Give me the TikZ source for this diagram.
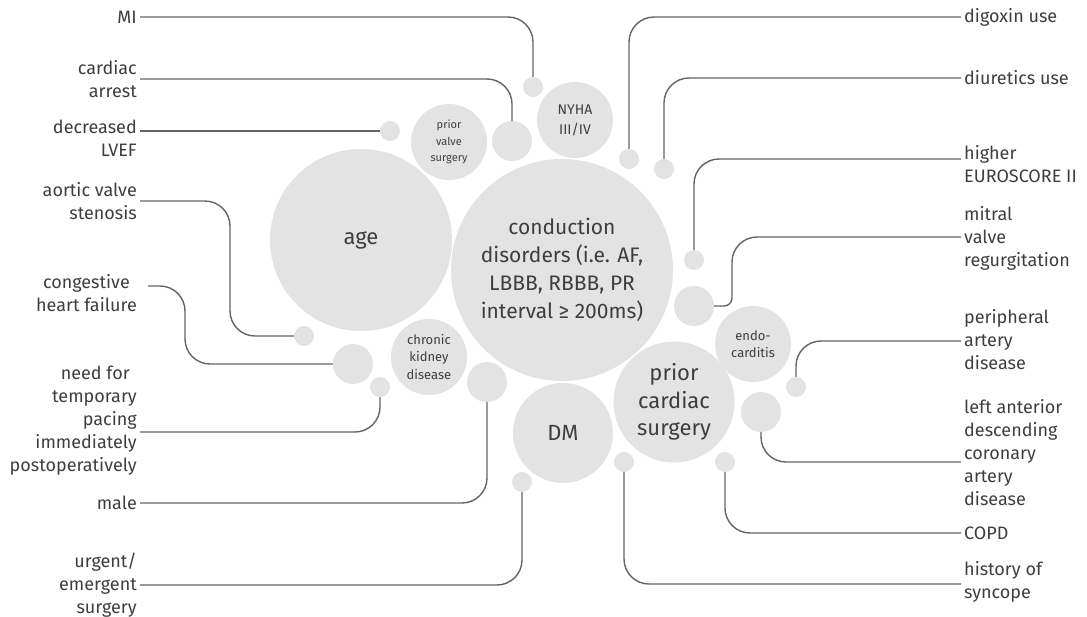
\documentclass[tikz,border=0pt]{standalone}
\usepackage{fontspec}
\setmainfont{Fira Sans}
\usetikzlibrary{positioning,calc}
\definecolor{bubblegray}{RGB}{227,227,227}
\definecolor{wiregray}{RGB}{100,100,100}
\definecolor{inkgray}{RGB}{62,62,62}

\begin{document}
\begin{tikzpicture}[x=1pt, y=-1pt,
    bubble/.style={circle, fill=bubblegray, inner sep=0pt, text=inkgray, align=center},
    pip/.style={bubble, minimum size=20pt},
    bigpip/.style={bubble, minimum size=40pt},
    factor/.style={text=inkgray, font=\fontsize{18}{23}\selectfont, inner sep=3pt},
    lfactor/.style={factor, anchor=east, align=right},
    rfactor/.style={factor, anchor=west, align=left},
    link/.style={draw=wiregray, line width=1.4pt, rounded corners=25pt}]
\useasboundingbox (0,0) rectangle (1087,616);

    \node [bubble, minimum size=222pt, font=\fontsize{21}{28}\selectfont] (cond) at (562,270)
        {conduction\\disorders (i.e. AF,\\LBBB, RBBB, PR\\interval ≥ 200ms)};
    \node [bubble, minimum size=182pt, font=\fontsize{22}{28}\selectfont] (age) at (361,240) {age};
    \node [bubble, minimum size=76pt, font=\fontsize{11}{16.5}\selectfont] (valve) at (449,142) {prior\\valve\\surgery};
    \node [bubble, minimum size=76pt, font=\fontsize{14}{20}\selectfont] (nyha) at (575,120) {NYHA\\III/IV};
    \node [bubble, minimum size=76pt, font=\fontsize{13}{17.5}\selectfont] (ckd) at (429,357) {chronic\\kidney\\disease};
    \node [bubble, minimum size=76pt, font=\fontsize{13}{17}\selectfont] (endo) at (753,344) {endo-\\carditis};
    \node [bubble, minimum size=121pt, font=\fontsize{22}{27.5}\selectfont] (surg) at (674,402) {prior\\cardiac\\surgery};
    \node [bubble, minimum size=100pt, font=\fontsize{22}{28}\selectfont] (dm) at (563,433) {DM};

    \node [pip] (dMI) at (533,87) {};
    \node [bigpip] (dArrest) at (512,141) {};
    \node [pip] (dLVEF) at (390,131) {};
    \node [pip] (dAVS) at (304,336) {};
    \node [bigpip] (dCHF) at (353,364) {};
    \node [pip] (dPace) at (380,387) {};
    \node [bigpip] (dMale) at (487,382) {};
    \node [pip] (dUrg) at (522,482) {};
    \node [pip] (dDig) at (629,159) {};
    \node [pip] (dDiur) at (664,169) {};
    \node [pip] (dEuro) at (694,260) {};
    \node [bigpip] (dMitral) at (694,306) {};
    \node [pip] (dPAD) at (796,387) {};
    \node [bigpip] (dLAD) at (761,412) {};
    \node [pip] (dCOPD) at (725,462) {};
    \node [pip] (dSync) at (624,462) {};

    \node [lfactor] (lMI) at (140,17) {MI};
    \node [lfactor] (lArrest) at (140,79) {cardiac\\arrest};
    \node [lfactor] (lLVEF) at (140,138.5) {decreased\\LVEF};
    \node [lfactor] (lAVS) at (140,201) {aortic valve\\stenosis};
    \node [lfactor] (lCHF) at (140,293.5) {congestive\hspace*{7pt}\\heart failure};
    \node [lfactor] (lPace) at (140,420.5) {need for\hspace*{7pt}\\temporary\hspace*{7pt}\\pacing\hspace*{7pt}\\immediately\hspace*{7pt}\\postoperatively};
    \node [lfactor] (lMale) at (140,503) {male};
    \node [lfactor] (lUrg) at (140,585) {urgent/\\emergent\\surgery};

    \node [rfactor] (rDig) at (961,17) {digoxin use};
    \node [rfactor] (rDiur) at (961,78) {diuretics use};
    \node [rfactor] (rEuro) at (961,164) {higher\\EUROSCORE II};
    \node [rfactor] (rMitral) at (961,238) {mitral\\valve\\regurgitation};
    \node [rfactor] (rPAD) at (961,340) {peripheral\\artery\\disease};
    \node [rfactor] (rLAD) at (961,453) {left anterior\\descending\\coronary\\artery\\disease};
    \node [rfactor] (rCOPD) at (961,533) {COPD};
    \node [rfactor] (rSync) at (961,581.5) {history of\\syncope};

    \draw [link] (lMI.east) -| (dMI.north);
    \draw [link] (lArrest.east) -| (dArrest.north);
    \draw [link] (lLVEF.east |- dLVEF.west) -- (dLVEF.west);
    \draw [link] (lAVS.east) -- ++(90,0) |- (dAVS.west);
    \draw [link] ($(lCHF.east)+(8,-7.5)$) -- ++(37,0) |- (dCHF.west);
    \draw [link] ($(lPace.east)+(0,11.5)$) -| (dPace.south);
    \draw [link] (lMale.east) -| (dMale.south);
    \draw [link] (lUrg.east) -| (dUrg.south);

    \draw [link] (rDig.west) -| (dDig.north);
    \draw [link] (rDiur.west) -| (dDiur.north);
    \draw [link] ($(rEuro.west)+(0,-5)$) -| (dEuro.north);
    \draw [link] ($(rMitral.west)+(0,-1)$) -- ++(-229,0) [rounded corners=8pt] |- (dMitral.east);
    \draw [link] ($(rPAD.west)+(0,1)$) -| (dPAD.north);
    \draw [link] ($(rLAD.west)+(0,9)$) -| (dLAD.south);
    \draw [link] (rCOPD.west) -| (dCOPD.south);
    \draw [link] ($(rSync.west)+(0,2.5)$) -| (dSync.south);
\end{tikzpicture}
\end{document}
